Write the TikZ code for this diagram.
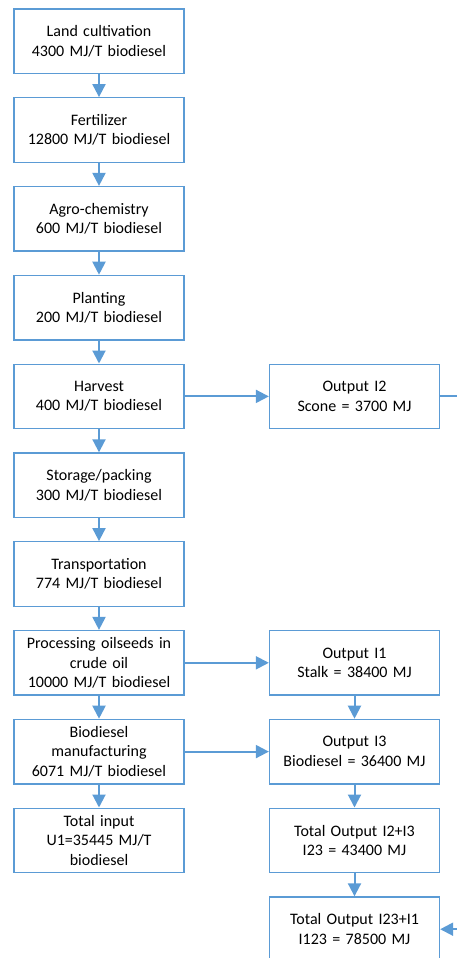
\documentclass[tikz,border=0pt]{standalone}
\usepackage{fontspec}
\setmainfont{Carlito}
\usetikzlibrary{arrows.meta,positioning}
\definecolor{flowblue}{RGB}{91,155,213}
\begin{document}
\begin{tikzpicture}[x=1pt,y=-1pt,
  stagebox/.style={draw=flowblue,line width=1.3pt,fill=white,minimum width=170pt,
    minimum height=64.5pt,inner sep=1pt,text width=166pt,align=center,
    font=\fontsize{16}{19.5}\selectfont},
  flow/.style={draw=flowblue,line width=2pt,-{Triangle[length=13pt,width=13pt]}}]
  \useasboundingbox (0,0) rectangle (457,958);
  \clip (0,0) rectangle (457,958);
  % left column: energy inputs
  \node[stagebox] (land)  at (99, 41.2)  {Land cultivation\\4300 MJ/T biodiesel};
  \node[stagebox] (fert)  at (99,130.0)  {Fertilizer\\12800 MJ/T biodiesel};
  \node[stagebox] (agro)  at (99,218.8)  {Agro-chemistry\\600 MJ/T biodiesel};
  \node[stagebox] (plant) at (99,307.6)  {Planting\\200 MJ/T biodiesel};
  \node[stagebox] (harv)  at (99,396.4)  {Harvest\\400 MJ/T biodiesel};
  \node[stagebox] (store) at (99,485.2)  {Storage/packing\\300 MJ/T biodiesel};
  \node[stagebox] (trans) at (99,574.0)  {Transportation\\774 MJ/T biodiesel};
  \node[stagebox] (proc)  at (99,662.8)  {Processing oilseeds in\\crude oil\\10000 MJ/T biodiesel};
  \node[stagebox] (manu)  at (99,751.6)  {Biodiesel\\manufacturing\\6071 MJ/T biodiesel};
  \node[stagebox] (tin)   at (99,840.4)  {Total input\\U1=35445 MJ/T\\biodiesel};
  % right column: energy outputs
  \node[stagebox] (oi2)   at (354.5,396.4) {Output I2\\Scone = 3700 MJ};
  \node[stagebox] (oi1)   at (354.5,662.8) {Output I1\\Stalk = 38400 MJ};
  \node[stagebox] (oi3)   at (354.5,751.6) {Output I3\\Biodiesel = 36400 MJ};
  \node[stagebox] (t23)   at (354.5,840.4) {Total Output I2+I3\\I23 = 43400 MJ};
  \node[stagebox] (t123)  at (354.5,929.2) {Total Output I23+I1\\I123 = 78500 MJ};
  % vertical chain
  \foreach \a/\b in {land/fert,fert/agro,agro/plant,plant/harv,harv/store,
      store/trans,trans/proc,proc/manu,manu/tin,oi1/oi3,oi3/t23,t23/t123}
    \draw[flow] (\a) -- (\b);
  % side branches
  \draw[flow] (harv) -- (oi2);
  \draw[flow] (proc) -- (oi1);
  \draw[flow] (manu) -- (oi3);
  \draw[flow] (oi2.east) -- ++(40,0) |- (t123.east);
\end{tikzpicture}
\end{document}
